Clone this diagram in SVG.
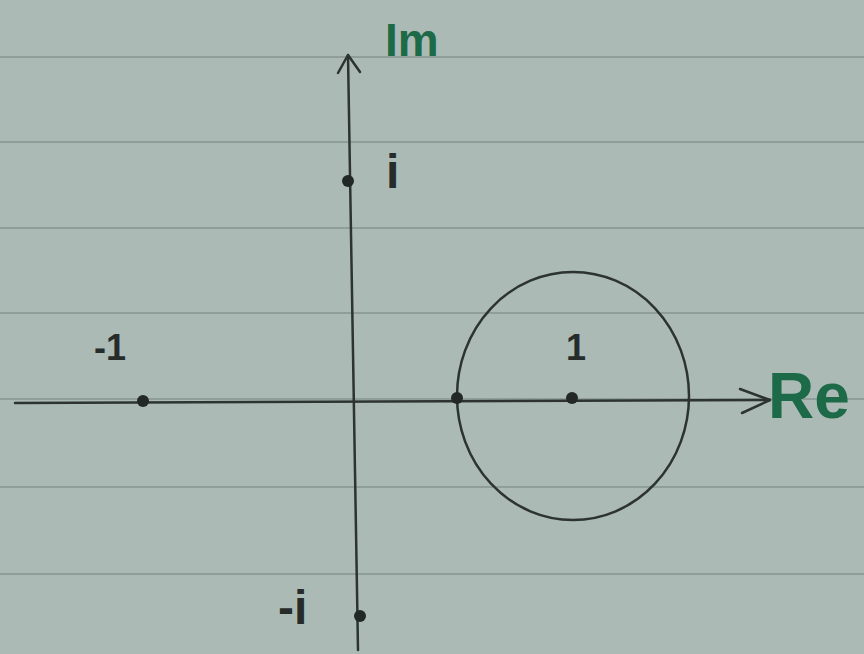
<svg xmlns="http://www.w3.org/2000/svg" width="864" height="654" viewBox="0 0 864 654">
<style>
.rule{stroke:#8f9e9b;stroke-width:2;fill:none}
.ink{stroke:#2c3331;stroke-width:2.5;fill:none;stroke-linecap:round;stroke-linejoin:round}
.dot{fill:#222826}
.lbl{font-family:"Liberation Sans",Arial,sans-serif;fill:#262c2a;font-weight:bold}
.grn{font-family:"Liberation Sans",Arial,sans-serif;fill:#1d6a48;font-weight:bold}
</style>
<rect width="864" height="654" fill="#acbab6"/>
<g id="paper">
<path class="rule" d="M0 57 H864 M0 142 H864 M0 228 H864 M0 313 H864 M0 399 H864 M0 487 H864 M0 574 H864"/>
</g>
<g id="connectors">
<path id="re-axis" class="ink" d="M15 403 L770 400"/>
<path class="ink" d="M740 389 L770 400 L742 413"/>
<path id="im-axis" class="ink" d="M348 55 L358 650"/>
<path class="ink" d="M338 73 L348 55 L360 72"/>
<ellipse id="circle" class="ink" cx="573" cy="396" rx="116" ry="124" stroke-width="2"/>
</g>
<g id="node-i"><circle class="dot" cx="348" cy="181" r="6"/><text class="lbl" x="386" y="188" font-size="48">i</text></g>
<g id="node-minus1"><circle class="dot" cx="143" cy="401" r="6"/><text class="lbl" x="94" y="360" font-size="36">-1</text></g>
<g id="node-1"><circle class="dot" cx="572" cy="398" r="6"/><text class="lbl" x="566" y="360" font-size="36">1</text></g>
<g id="node-half"><circle class="dot" cx="457" cy="398" r="6"/></g>
<g id="node-minusi"><circle class="dot" cx="360" cy="616" r="6"/><text class="lbl" x="278" y="624" font-size="48">-i</text></g>
<g id="label-im"><text class="grn" x="385" y="56" font-size="46">Im</text></g>
<g id="label-re"><text class="grn" x="768" y="418" font-size="64">Re</text></g>
</svg>
